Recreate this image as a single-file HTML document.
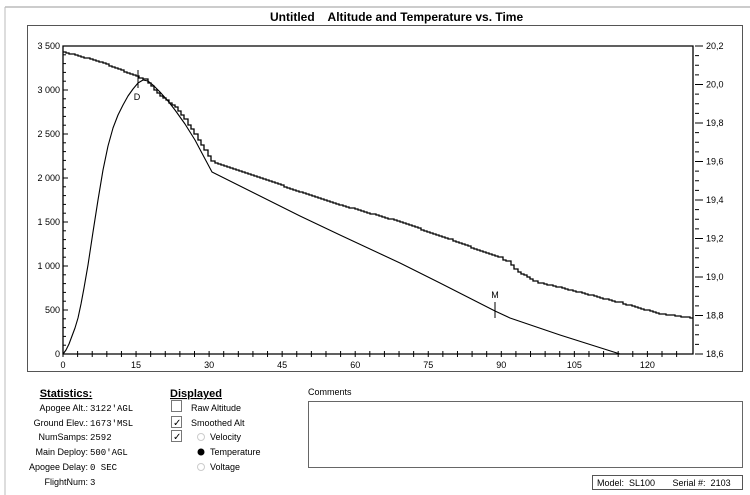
<!DOCTYPE html>
<html><head><meta charset="utf-8"><style>
body{margin:0;background:#fff;width:750px;height:495px;overflow:hidden;font-family:"Liberation Sans",sans-serif}
svg{position:absolute;left:0;top:0}
</style></head><body>
<svg width="750" height="495" xmlns="http://www.w3.org/2000/svg" font-family="Liberation Sans, sans-serif">
<line x1="5" y1="7" x2="750" y2="7" stroke="#999" stroke-width="1"/>
<line x1="5" y1="7" x2="5" y2="495" stroke="#bbb" stroke-width="1"/>
<rect x="27.5" y="25.5" width="715" height="346" fill="none" stroke="#555" stroke-width="1"/>
<text x="270" y="21" font-size="12" font-weight="bold" xml:space="preserve">Untitled    Altitude and Temperature vs. Time</text>
<path d="M63,46 H693 V354 H63 Z" fill="none" stroke="#000" stroke-width="1.3"/>
<g id="ticks" stroke="#000" stroke-width="1"></g>
<g font-size="9" id="labels"></g>
<path id="alt" fill="none" stroke="#000" stroke-width="1.1" stroke-linejoin="round" d="M63,354 L66,350 L69,344 L72,336 L75,328 L78,318 L81,304 L84,288 L88,265 L93,232 L98,200 L103,170 L108,146 L113,128 L118,115 L123,105 L128,96 L133,89 L138,83 L143,80 L148,81 L153,85 L160,92 L168,101 L175,110 L185,124 L195,140 L204,157 L212,172 L300,216 L340,235 L400,263 L440,283 L495,311 L510,318 L560,335 L620,354 L693,354"/>
<path id="tmp" fill="none" stroke="#000" stroke-width="1.3"/>
<line x1="138" y1="70" x2="138" y2="88" stroke="#000"/>
<text x="137" y="100" font-size="9" text-anchor="middle">D</text>
<line x1="495" y1="302" x2="495" y2="318" stroke="#000"/>
<text x="495" y="298" font-size="9" text-anchor="middle">M</text>
<text x="66" y="397" font-size="11" font-weight="bold" text-anchor="middle" text-decoration="underline">Statistics:</text>
<g font-size="9" text-anchor="end">
<text x="88" y="411">Apogee Alt.:</text><text x="88" y="426">Ground Elev.:</text><text x="88" y="440">NumSamps:</text><text x="88" y="455">Main Deploy:</text><text x="88" y="470">Apogee Delay:</text><text x="88" y="485">FlightNum:</text>
</g>
<g font-size="9" font-family="Liberation Mono, monospace">
<text x="90" y="411">3122'AGL</text><text x="90" y="426">1673'MSL</text><text x="90" y="440">2592</text><text x="90" y="455">500'AGL</text><text x="90" y="470">0 SEC</text><text x="90" y="485">3</text>
</g>
<text x="170" y="397" font-size="11" font-weight="bold" text-decoration="underline">Displayed</text>
<rect x="171.5" y="400.5" width="10" height="11" fill="none" stroke="#777"/>
<rect x="171.5" y="416.5" width="10" height="11" fill="none" stroke="#777"/>
<rect x="171.5" y="430.5" width="10" height="11" fill="none" stroke="#777"/>
<text x="173" y="426" font-size="10">✓</text><text x="173" y="440" font-size="10">✓</text>
<g font-size="9"><text x="191" y="411">Raw Altitude</text><text x="191" y="426">Smoothed Alt</text><text x="210" y="440">Velocity</text><text x="210" y="455">Temperature</text><text x="210" y="470">Voltage</text></g>
<circle cx="201" cy="437" r="3.5" fill="none" stroke="#ccc"/>
<circle cx="201" cy="452" r="3.5" fill="#000"/>
<circle cx="201" cy="467" r="3.5" fill="none" stroke="#ccc"/>
<text x="308" y="395" font-size="9">Comments</text>
<rect x="308.5" y="401.5" width="434" height="66" fill="none" stroke="#666"/>
<rect x="592.5" y="475.5" width="150" height="14" fill="none" stroke="#555"/>
<text x="597" y="486" font-size="9" xml:space="preserve">Model:  SL100       Serial #:  2103</text>
</svg>
<script>
var t=document.getElementById('ticks'),l=document.getElementById('labels'),ns='http://www.w3.org/2000/svg';
function ln(a,b,c,d){var e=document.createElementNS(ns,'line');e.setAttribute('x1',a);e.setAttribute('y1',b);e.setAttribute('x2',c);e.setAttribute('y2',d);t.appendChild(e);}
function tx(x,y,s,a){var e=document.createElementNS(ns,'text');e.setAttribute('x',x);e.setAttribute('y',y);e.setAttribute('text-anchor',a);e.textContent=s;l.appendChild(e);}
var ys=308/3500;
for(var v=0;v<=3500;v+=100){var y=354-v*ys;ln(63,y,v%500==0?68:66,y);if(v%500==0)tx(60,y+3,v<1000?String(v):(Math.floor(v/1000)+' '+String(v%1000).padStart(3,'0')),'end');}
var xs=4.87;
for(var s=0;s<=128;s+=3){var x=63+s*xs;ln(x,351,x,357);if(s%15==0)tx(x,368,s,'middle');}
var rs=308/1.6;
for(var k=0;k<=32;k++){var y=46+k*rs*0.05;ln(695,y,k%4==0?703:699,y);if(k%4==0)tx(706,y+3,(20.2-k*0.2/4).toFixed(1).replace('.',','),'start');}
var P=[[63,52],[100,62],[140,78],[145,80],[160,96],[175,107],[185,120],[195,135],[205,152],[212,162],[230,168],[300,192],[340,205],[400,222],[450,240],[500,258],[508,262],[515,270],[535,282],[570,290],[620,303],[660,314],[693,318]];
var d='M63,52';
for(var i=1;i<P.length;i++){var a=P[i-1],b=P[i];for(var x=a[0]+3;x<=b[0];x+=3){var y=a[1]+(b[1]-a[1])*(x-a[0])/(b[0]-a[0]);y=Math.round(y);d+=' H'+x+' V'+y;}}
document.getElementById('tmp').setAttribute('d',d);
</script>
</body></html>
